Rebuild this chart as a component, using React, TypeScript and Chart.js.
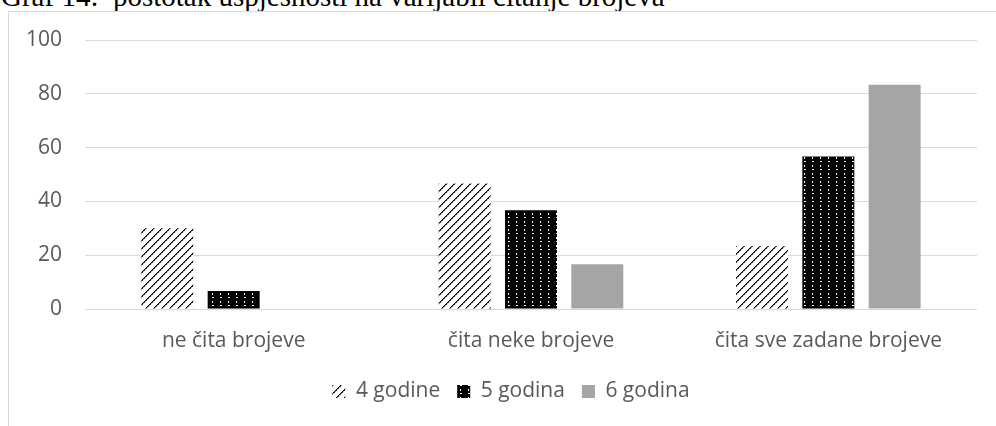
import React, { useEffect, useRef } from "react";
import { Chart, registerables } from "chart.js";

Chart.register(...registerables);

const titleText = "Graf 14:  postotak uspješnosti na varijabli čitanje brojeva";
const categories = ["ne čita brojeve", "čita neke brojeve", "čita sve zadane brojeve"];
const seriesNames = ["4 godine", "5 godina", "6 godina"];
const values4 = [30, 46.67, 23.33];
const values5 = [6.67, 36.67, 56.67];
const values6 = [0, 16.67, 83.33];
const yTicks = { min: 0, max: 100, step: 20 };

function hatchPattern(): CanvasPattern | string {
  const c = document.createElement("canvas");
  c.width = 8;
  c.height = 8;
  const ctx = c.getContext("2d")!;
  ctx.fillStyle = "#ffffff";
  ctx.fillRect(0, 0, 8, 8);
  for (let y = 0; y < 8; y++) {
    for (let x = 0; x < 8; x++) {
      const m = (x + y) % 8;
      if (m === 0) {
        ctx.fillStyle = "#000000";
        ctx.fillRect(x, y, 1, 1);
      } else if (m === 1) {
        ctx.fillStyle = y % 2 === 0 ? "#333333" : "#9a9a9a";
        ctx.fillRect(x, y, 1, 1);
      }
    }
  }
  return ctx.createPattern(c, "repeat") || "#555";
}

function dotPattern(): CanvasPattern | string {
  const c = document.createElement("canvas");
  c.width = 8;
  c.height = 8;
  const ctx = c.getContext("2d")!;
  ctx.fillStyle = "#000000";
  ctx.fillRect(0, 0, 8, 8);
  ctx.fillStyle = "#ffffff";
  ctx.fillRect(3, 1, 1, 2);
  ctx.fillRect(3, 5, 2, 1);
  return ctx.createPattern(c, "repeat") || "#000";
}

const shiftLegend = {
  id: "shiftLegend",
  afterLayout(chart: any) {
    const l = chart.legend;
    if (l) {
      l.left += 18;
      l.right += 18;
    }
  },
};

export default function App() {
  const ref = useRef<HTMLCanvasElement>(null);

  useEffect(() => {
    if (!ref.current) return;
    const textColor = "#595959";
    const gridColor = "#D9D9D9";
    const font = { family: "'Open Sans', sans-serif", size: 21 };
    const chart = new Chart(ref.current, {
      type: "bar",
      data: {
        labels: categories,
        datasets: [
          { label: seriesNames[0], data: values4, backgroundColor: hatchPattern() as any, borderWidth: 0 },
          { label: seriesNames[1], data: values5, backgroundColor: dotPattern() as any, borderWidth: 0 },
          { label: seriesNames[2], data: values6, backgroundColor: "#A5A5A5", borderWidth: 0 },
        ],
      },
      options: {
        animation: false,
        responsive: false,
        maintainAspectRatio: false,
        layout: { padding: { left: 0, right: 32, top: 28, bottom: 20 } },
        datasets: { bar: { categoryPercentage: 0.669, barPercentage: 0.784 } },
        plugins: {
          legend: {
            position: "bottom",
            labels: {
              color: textColor,
              font,
              boxWidth: 13,
              boxHeight: 13,
              padding: 17,
            },
          },
          tooltip: { enabled: false },
          title: { display: false },
        },
        scales: {
          x: {
            grid: { display: false, drawTicks: false },
            border: { display: false },
            ticks: { color: textColor, font, padding: 19, maxRotation: 0, autoSkip: false },
            afterFit: (s: any) => {
              s.height = 55;
            },
          },
          y: {
            min: yTicks.min,
            max: yTicks.max,
            grid: { color: gridColor, lineWidth: 1, drawTicks: false },
            border: { display: false },
            ticks: { color: textColor, font, padding: 23, stepSize: yTicks.step },
            afterFit: (s: any) => {
              s.width = 76;
              s.paddingTop = 10;
              s.paddingBottom = 10;
            },
          },
        },
      },
      plugins: [shiftLegend],
    });
    return () => chart.destroy();
  }, []);

  return (
    <div style={{ position: "fixed", left: 0, top: 0, width: 996, height: 426, overflow: "hidden", background: "#fff" }}>
      <div
        style={{
          position: "absolute",
          left: 1,
          top: -18,
          fontFamily: "'Liberation Serif', 'Times New Roman', serif",
          fontSize: 29,
          lineHeight: "29px",
          whiteSpace: "pre",
          color: "#000",
        }}
      >
        {titleText}
      </div>
      <div
        style={{
          position: "absolute",
          left: 8,
          top: 11,
          width: 1000,
          height: 420,
          border: "1px solid #D9D9D9",
          background: "#fff",
        }}
      >
        <canvas ref={ref} width={1000} height={420} style={{ display: "block", width: 1000, height: 420 }} />
      </div>
    </div>
  );
}
